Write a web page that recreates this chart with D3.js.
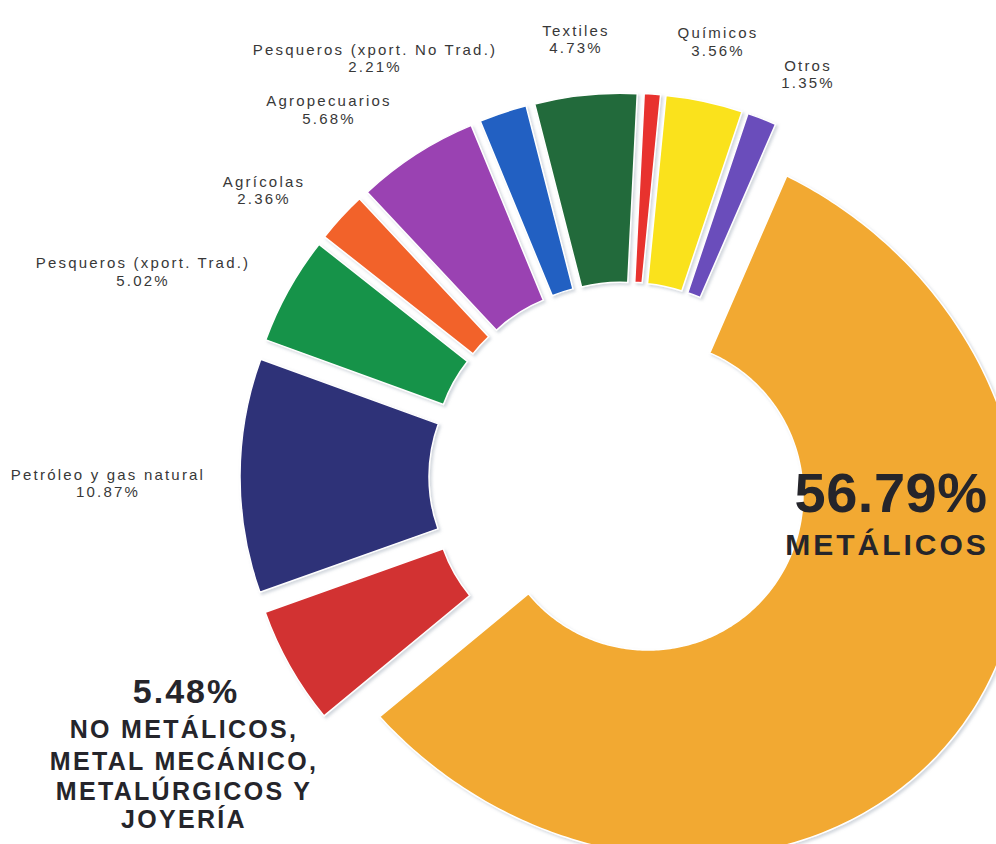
<!DOCTYPE html>
<html>
<head>
<meta charset="utf-8">
<script src="https://cdn.jsdelivr.net/npm/d3@7"></script>
<style>
  html, body { margin: 0; padding: 0; background: #ffffff; }
  svg { display: block; }
</style>
</head>
<body>
<svg id="chart" width="996" height="844"></svg>
<script>
// ---------------- DATA ----------------
const categories = [
  "METÁLICOS",
  "NO METÁLICOS, METAL MECÁNICO, METALÚRGICOS Y JOYERÍA",
  "Petróleo y gas natural",
  "Pesqueros (xport. Trad.)",
  "Agrícolas",
  "Agropecuarios",
  "Pesqueros (xport. No Trad.)",
  "Textiles",
  "(sin etiqueta)",
  "Químicos",
  "Otros"
];
const values = [56.79, 5.48, 10.87, 5.02, 2.36, 5.68, 2.21, 4.73, 0.75, 3.56, 1.35];
const valueLabels = ["56.79%", "5.48%", "10.87%", "5.02%", "2.36%", "5.68%", "2.21%", "4.73%", "", "3.56%", "1.35%"];
const bigLines = [
  ["56.79%", "METÁLICOS"],
  ["5.48%", "NO METÁLICOS,", "METAL MECÁNICO,", "METALÚRGICOS Y", "JOYERÍA"]
];

// ---------------- STYLE / LAYOUT ----------------
const colors = ["#F2A930", "#D23131", "#2E3178", "#18934A", "#F2622B", "#9A42B2",
                "#2161C2", "#236B3A", "#E8312F", "#FAE21D", "#6B4DBB"];
const cx = 624, cy = 477;
const rIn = 155, rOut = 344;
const explodeSmall = 40, explodeBig = 30;
const bigA = 390, bigB = 346;          // outer shape of the large slice
const startDeg = 23.5;
// label anchor positions for the small slices (index -> [x, yLine1, yLine2])
const labelPos = {
  2: [108, 480, 497],
  3: [143, 268, 286],
  4: [264, 187, 204],
  5: [329, 106, 124],
  6: [375, 55, 72],
  7: [576, 36, 53],
  9: [718, 38, 56],
  10: [808, 71, 88]
};

const svg = d3.select("#chart");

const defs = svg.append("defs");
const f = defs.append("filter").attr("id", "shadow")
  .attr("x", "-20%").attr("y", "-20%").attr("width", "140%").attr("height", "140%");
f.append("feDropShadow").attr("dx", 2).attr("dy", 2).attr("stdDeviation", 1.6)
  .attr("flood-color", "#7f8fa0").attr("flood-opacity", 0.35);

const s0 = startDeg * Math.PI / 180;
const pie = d3.pie().sort(null).value(d => d).startAngle(s0).endAngle(s0 + 2 * Math.PI);
const arcs = pie(values);
const arcGen = d3.arc().innerRadius(rIn).outerRadius(rOut);

const g = svg.append("g").attr("transform", `translate(${cx},${cy})`);

arcs.forEach((d, i) => {
  const mid = (d.startAngle + d.endAngle) / 2;
  const ex = i === 0 ? explodeBig : explodeSmall;
  const dx = Math.sin(mid) * ex, dy = -Math.cos(mid) * ex;
  const sg = g.append("g").attr("transform", `translate(${dx},${dy})`);
  if (i === 0) {
    const n = 240;
    const angles = d3.range(n + 1).map(k => d.startAngle + (d.endAngle - d.startAngle) * k / n);
    const rOuterBig = t => {
      const u = t - mid;
      return bigA * bigB / Math.sqrt((bigB * Math.cos(u)) ** 2 + (bigA * Math.sin(u)) ** 2);
    };
    const area = d3.areaRadial().angle(t => t).innerRadius(rIn).outerRadius(rOuterBig);
    sg.append("path").attr("d", area(angles))
      .attr("fill", colors[i]).attr("stroke", "#fff").attr("stroke-width", 1.5)
      .attr("filter", "url(#shadow)");
  } else {
    sg.append("path").attr("d", arcGen(d))
      .attr("fill", colors[i]).attr("stroke", "#fff").attr("stroke-width", 1.5)
      .attr("filter", "url(#shadow)");
  }
});

// small labels
const small = svg.append("g")
  .attr("font-family", "'Liberation Sans', Arial, sans-serif")
  .attr("font-size", 15).attr("fill", "#383838")
  .attr("letter-spacing", 2.2).attr("text-anchor", "middle");
Object.keys(labelPos).forEach(k => {
  const i = +k, p = labelPos[k];
  small.append("text").attr("x", p[0]).attr("y", p[1]).text(categories[i]);
  small.append("text").attr("x", p[0]).attr("y", p[2]).text(valueLabels[i]);
});

// big labels
const big = svg.append("g")
  .attr("font-family", "'Liberation Sans', Arial, sans-serif")
  .attr("font-weight", "bold").attr("fill", "#25252b").attr("text-anchor", "middle");
big.append("text").attr("x", 891).attr("y", 512).attr("font-size", 56)
  .attr("letter-spacing", 0.5).text(bigLines[0][0]);
big.append("text").attr("x", 887).attr("y", 555).attr("font-size", 30)
  .attr("letter-spacing", 3).text(bigLines[0][1]);

big.append("text").attr("x", 186).attr("y", 703).attr("font-size", 34)
  .attr("letter-spacing", 2).text(bigLines[1][0]);
const ys = [738, 770, 800, 828];
bigLines[1].slice(1).forEach((t, j) => {
  big.append("text").attr("x", 184).attr("y", ys[j]).attr("font-size", 25)
    .attr("letter-spacing", 2.3).text(t);
});
</script>
</body>
</html>
